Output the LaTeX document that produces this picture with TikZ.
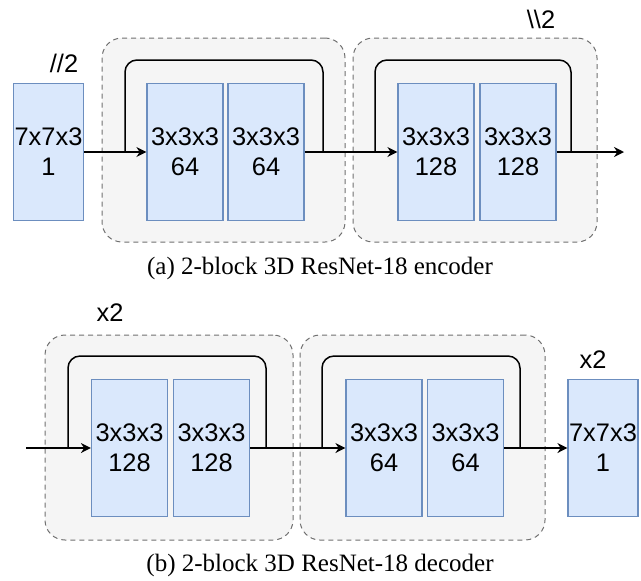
\documentclass[tikz,border=0pt]{standalone}
\usepackage{fontspec}
\setmainfont{Liberation Serif}
\setsansfont{Liberation Sans}
\usetikzlibrary{arrows.meta, positioning, calc}

\definecolor{convfill}{HTML}{DAE8FC}
\definecolor{convdraw}{HTML}{6C8EBF}
\definecolor{grpfill}{HTML}{F5F5F5}
\definecolor{grpdraw}{HTML}{707070}

\begin{document}
\begin{tikzpicture}[x=0.5pt, y=-0.5pt,
  conv/.style={draw=convdraw, fill=convfill, line width=0.6pt, inner sep=0pt,
    minimum width=38pt, minimum height=68.5pt, align=center,
    font=\sffamily\fontsize{12.7}{15}\selectfont},
  stem/.style={conv, minimum width=35pt},
  group/.style={draw=grpdraw, fill=grpfill, line width=0.5pt,
    dash pattern=on 2.5pt off 2pt, rounded corners=10pt, inner sep=0pt},
  flow/.style={-{Stealth[length=5pt, width=5pt]}, line width=0.75pt},
  skip/.style={line width=0.75pt, rounded corners=6pt},
  tag/.style={font=\sffamily\fontsize{12.7}{15}\selectfont},
  caption/.style={font=\fontsize{12.5}{15}\selectfont}]
  \useasboundingbox (0,0) rectangle (641,580);

  % Encoder: blocos residuais
  \node[group, minimum width=121.5pt, minimum height=102pt] (g11) at (223.5,140) {};
  \node[group, minimum width=122pt, minimum height=102pt] (g12) at (475,140) {};
  % Encoder: convolucoes
  \node[stem] (b1) at (48.5,152) {7x7x3\\1};
  \node[conv] (c11) at (185,152) {3x3x3\\64};
  \node[conv] (c12) at (266,152) {3x3x3\\64};
  \node[conv] (c21) at (436,152) {3x3x3\\128};
  \node[conv] (c22) at (518,152) {3x3x3\\128};
  \node[tag] (lb1) at (64,63) {//2};
  \node[tag] (lb2) at (541,19) {\textbackslash\textbackslash 2};
  % Encoder: ligacoes
  \coordinate (out1) at (624,152);
  \draw[flow] (b1) -- (c11);
  \draw[flow] (c12) -- (c21);
  \draw[flow] (c22) -- (out1);
  \coordinate (k11) at (125,152);
  \coordinate (k12) at (323,152);
  \coordinate (k21) at (375,152);
  \coordinate (k22) at (571,152);
  \draw[skip] (k11) |- (224,60) -| (k12);
  \draw[skip] (k21) |- (473,60) -| (k22);
  \node[caption] (capa) at (320,268) {(a) 2-block 3D ResNet-18 encoder};

  % Decoder: blocos residuais
  \node[group, minimum width=124pt, minimum height=102.5pt] (g21) at (169,437.5) {};
  \node[group, minimum width=122.5pt, minimum height=102.5pt] (g22) at (422.5,437.5) {};
  % Decoder: convolucoes
  \node[conv] (d11) at (129.5,448) {3x3x3\\128};
  \node[conv] (d12) at (211.5,448) {3x3x3\\128};
  \node[conv] (d21) at (384,448) {3x3x3\\64};
  \node[conv] (d22) at (465.5,448) {3x3x3\\64};
  \node[stem] (b2) at (603,448) {7x7x3\\1};
  \node[tag] (lb3) at (110,313) {x2};
  \node[tag] (lb4) at (593,360) {x2};
  % Decoder: ligacoes
  \coordinate (in2) at (26,448);
  \draw[flow] (in2) -- (d11);
  \draw[flow] (d12) -- (d21);
  \draw[flow] (d22) -- (b2);
  \coordinate (k31) at (68,448);
  \coordinate (k32) at (266,448);
  \coordinate (k41) at (322,448);
  \coordinate (k42) at (520,448);
  \draw[skip] (k31) |- (167,356) -| (k32);
  \draw[skip] (k41) |- (421,356) -| (k42);
  \node[caption] (capb) at (320,565) {(b) 2-block 3D ResNet-18 decoder};
\end{tikzpicture}
\end{document}
